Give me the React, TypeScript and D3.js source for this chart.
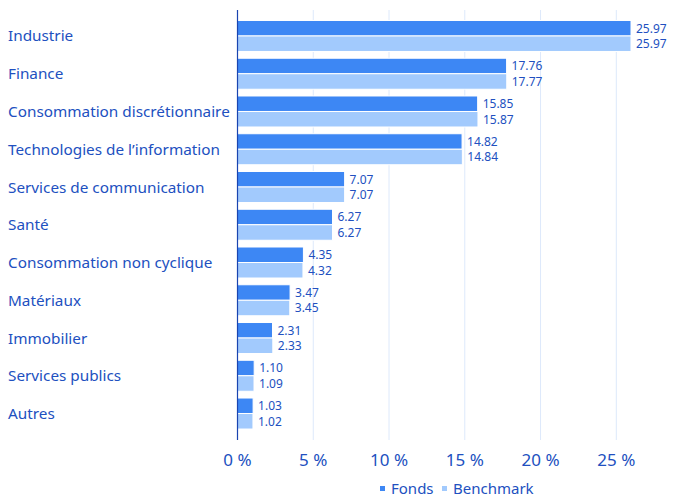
import * as d3 from 'd3';
import React from 'react';

const categories = [
    'Industrie',
    'Finance',
    'Consommation discrétionnaire',
    'Technologies de l’information',
    'Services de communication',
    'Santé',
    'Consommation non cyclique',
    'Matériaux',
    'Immobilier',
    'Services publics',
    'Autres',
];
const fonds = [25.97, 17.76, 15.85, 14.82, 7.07, 6.27, 4.35, 3.47, 2.31, 1.1, 1.03];
const benchmark = [25.97, 17.77, 15.87, 14.84, 7.07, 6.27, 4.32, 3.45, 2.33, 1.09, 1.02];
const xTicks = [0, 5, 10, 15, 20, 25];
const seriesNames = ['Fonds', 'Benchmark'];

const colors = ['#3d87f4', '#a2cafd'];
const textColor = '#2150c0';
const font = '"Noto Sans", "Open Sans", sans-serif';

const App = (): React.ReactElement => {
    const width = 673;
    const height = 498;
    const left = 237.5;
    const top = 10;
    const bottom = 440;

    const x = d3.scaleLinear().domain([0, 25]).range([left, 616.3]);
    const y = d3.scaleBand<string>().domain(categories).range([17.1, 432.4]);
    const barH = 15.5;

    const series = [fonds, benchmark];

    return (
        <svg width={width} height={height} style={{ position: 'absolute', left: 0, top: 0 }}>
            <g>
                {xTicks.slice(1).map((t) => (
                    <line key={t} x1={x(t)} x2={x(t)} y1={top} y2={bottom} stroke="#dde9fb" strokeWidth={1} />
                ))}
            </g>
            {categories.map((c, i) => {
                const cy = (y(c) as number) + y.bandwidth() / 2;
                return (
                    <g key={c}>
                        <text x={8} y={cy} dy="0.36em" fill={textColor} fontFamily={font} fontSize={15.3}>
                            {c}
                        </text>
                        {series.map((s, k) => {
                            const by = cy - barH + k * barH;
                            return (
                                <g key={k}>
                                    <rect
                                        x={x(0)}
                                        y={by}
                                        width={x(s[i]) - x(0)}
                                        height={barH}
                                        fill={colors[k]}
                                        stroke="#ffffff"
                                        strokeWidth={1}
                                    />
                                    <text
                                        x={x(s[i]) + 5}
                                        y={by + barH / 2}
                                        dy="0.36em"
                                        fill={textColor}
                                        fontFamily={font}
                                        fontSize={12}
                                    >
                                        {s[i].toFixed(2)}
                                    </text>
                                </g>
                            );
                        })}
                    </g>
                );
            })}
            <line x1={left} x2={left} y1={top} y2={bottom} stroke="#1a44b0" strokeWidth={1.2} />
            {xTicks.map((t) => (
                <text
                    key={t}
                    x={x(t)}
                    y={460}
                    dy="0.36em"
                    textAnchor="middle"
                    fill={textColor}
                    fontFamily={font}
                    fontSize={17}
                >
                    {t + ' %'}
                </text>
            ))}
            <g>
                <rect x={380} y={486} width={5} height={5} fill={colors[0]} />
                <text x={391} y={489} dy="0.36em" fill={textColor} fontFamily={font} fontSize={15}>
                    {seriesNames[0]}
                </text>
                <rect x={442} y={486} width={5} height={5} fill={colors[1]} />
                <text x={453} y={489} dy="0.36em" fill={textColor} fontFamily={font} fontSize={15}>
                    {seriesNames[1]}
                </text>
            </g>
        </svg>
    );
};

export default App;
